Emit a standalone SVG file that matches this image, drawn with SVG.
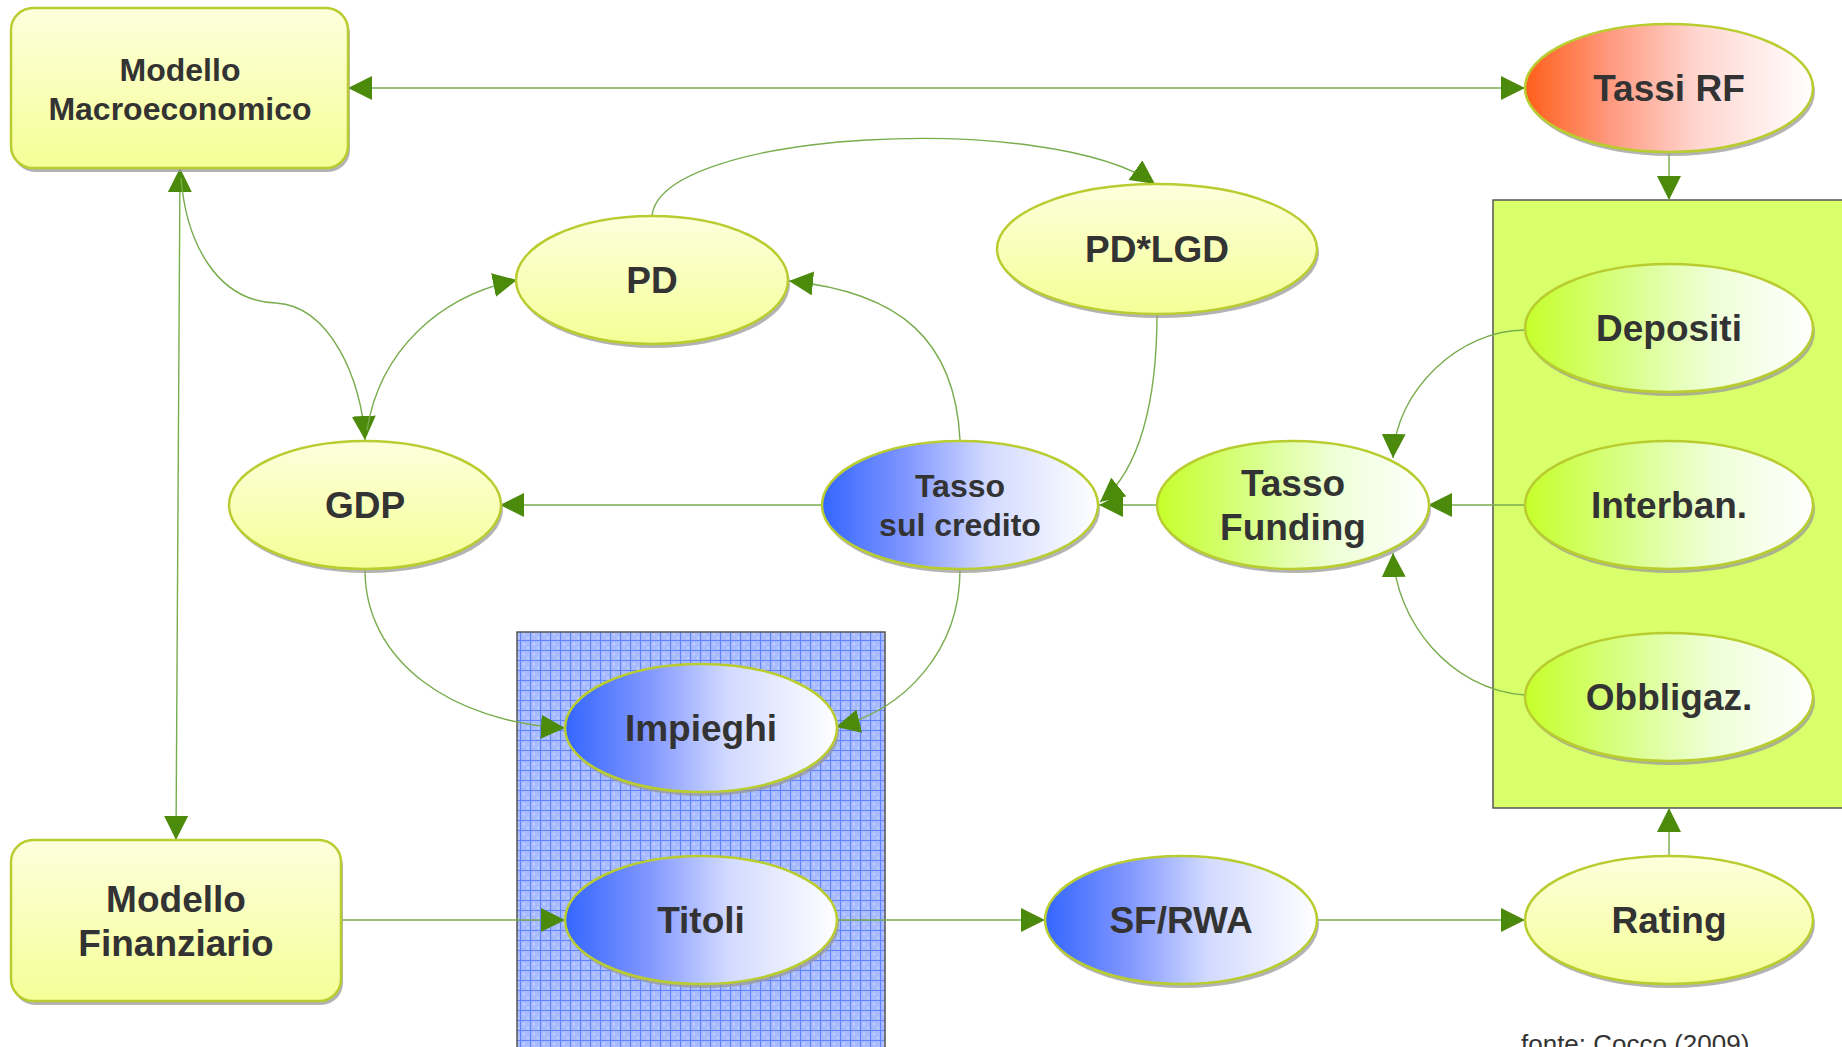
<svg xmlns="http://www.w3.org/2000/svg" width="1842" height="1047" viewBox="0 0 1842 1047">
<style>
.lbl{font-family:"Liberation Sans",Arial,sans-serif;font-weight:bold;fill:#333333;text-anchor:middle}
.f37{font-size:37px}
.f32{font-size:32px}
.node{stroke:#b9cc30;stroke-width:2.5}
.shadow{fill:#9a9a9a;opacity:0.75}
.conn{fill:none;stroke:#78ad4e;stroke-width:1.4}
</style>
<defs>
<linearGradient id="gYellow" x1="0" y1="0" x2="0" y2="1">
<stop offset="0" stop-color="#fdffdc"/>
<stop offset="1" stop-color="#f5ff96"/>
</linearGradient>
<linearGradient id="gBlue" x1="0" y1="0" x2="1" y2="0">
<stop offset="0" stop-color="#3366ff"/>
<stop offset="0.3" stop-color="#7f95ff"/>
<stop offset="0.6" stop-color="#d2daff"/>
<stop offset="1" stop-color="#ffffff"/>
</linearGradient>
<linearGradient id="gGreen" x1="0" y1="0" x2="1" y2="0">
<stop offset="0" stop-color="#c6ff2a"/>
<stop offset="0.35" stop-color="#d8ff88"/>
<stop offset="0.65" stop-color="#eeffd6"/>
<stop offset="1" stop-color="#ffffff"/>
</linearGradient>
<linearGradient id="gRed" x1="0" y1="0" x2="1" y2="0">
<stop offset="0" stop-color="#ff5f1a"/>
<stop offset="0.3" stop-color="#ff9a80"/>
<stop offset="0.6" stop-color="#ffd6d0"/>
<stop offset="1" stop-color="#ffffff"/>
</linearGradient>
<pattern id="grid" width="10" height="10" patternUnits="userSpaceOnUse">
<rect width="10" height="10" fill="#a9bbff"/>
<rect x="3" y="3" width="2" height="2" fill="#c4d0ff"/>
<rect x="7" y="7" width="2" height="2" fill="#c4d0ff"/>
<path d="M0 0.5H10M0.5 0V10" stroke="#5f82ff" stroke-width="1.2"/>
</pattern>
<marker id="arr" viewBox="0 0 24 24" refX="24" refY="12" markerWidth="24" markerHeight="24" markerUnits="userSpaceOnUse" orient="auto-start-reverse">
<path d="M0 0L24 12L0 24Z" fill="#4c8a0b"/>
</marker>
</defs>
<rect width="1842" height="1047" fill="#ffffff"/>

<g id="group-funding">
<rect x="1493" y="200" width="360" height="608" fill="#d9ff6a" stroke="#555555" stroke-width="1.5"/>
</g>
<g id="group-attivo">
<rect x="517" y="632" width="368" height="430" fill="url(#grid)" stroke="#555555" stroke-width="1.5"/>
</g>

<g id="connectors">
<path class="conn" d="M348 88H1525" marker-start="url(#arr)" marker-end="url(#arr)"/>
<path class="conn" d="M1669 153V200" marker-end="url(#arr)"/>
<path class="conn" d="M180 168L176 840" marker-start="url(#arr)" marker-end="url(#arr)"/>
<path class="conn" d="M181 178C186 240 215 301 276 303C330 306 362 380 365 440" marker-end="url(#arr)"/>
<path class="conn" d="M367 430C380 350 440 296 517 280" marker-end="url(#arr)"/>
<path class="conn" d="M652 216C660 130 1050 110 1155 184" marker-end="url(#arr)"/>
<path class="conn" d="M960 440C955 340 900 292 789 281" marker-end="url(#arr)"/>
<path class="conn" d="M1157 314C1157 400 1140 470 1100 502" marker-end="url(#arr)"/>
<path class="conn" d="M1157 505H1099" marker-end="url(#arr)"/>
<path class="conn" d="M821 505H500" marker-end="url(#arr)"/>
<path class="conn" d="M365 570C365 660 450 722 565 728" marker-end="url(#arr)"/>
<path class="conn" d="M960 570C960 650 905 710 836 727" marker-end="url(#arr)"/>
<path class="conn" d="M1525 330C1460 330 1395 390 1393 458" marker-end="url(#arr)"/>
<path class="conn" d="M1525 505H1428" marker-end="url(#arr)"/>
<path class="conn" d="M1525 695C1450 690 1395 620 1393 553" marker-end="url(#arr)"/>
<path class="conn" d="M341 920H565" marker-end="url(#arr)"/>
<path class="conn" d="M836 920H1045" marker-end="url(#arr)"/>
<path class="conn" d="M1317 920H1525" marker-end="url(#arr)"/>
<path class="conn" d="M1669 855V808" marker-end="url(#arr)"/>
</g>

<g id="modello-macroeconomico">
<rect class="shadow" x="13" y="12" width="337" height="160" rx="22"/>
<rect class="node" x="11" y="8" width="337" height="160" rx="22" fill="url(#gYellow)"/>
<text class="lbl f32" x="180" y="81">Modello</text>
<text class="lbl f32" x="180" y="120">Macroeconomico</text>
</g>

<g id="tassi-rf">
<ellipse class="shadow" cx="1671" cy="92" rx="144" ry="64"/>
<ellipse class="node" cx="1669" cy="88" rx="144" ry="64" fill="url(#gRed)"/>
<text class="lbl f37" x="1669" y="101">Tassi RF</text>
</g>

<g id="pd">
<ellipse class="shadow" cx="654" cy="284" rx="136" ry="64"/>
<ellipse class="node" cx="652" cy="280" rx="136" ry="64" fill="url(#gYellow)"/>
<text class="lbl f37" x="652" y="293">PD</text>
</g>

<g id="pd-lgd">
<ellipse class="shadow" cx="1159" cy="253" rx="160" ry="65"/>
<ellipse class="node" cx="1157" cy="249" rx="160" ry="65" fill="url(#gYellow)"/>
<text class="lbl f37" x="1157" y="262">PD*LGD</text>
</g>

<g id="gdp">
<ellipse class="shadow" cx="367" cy="509" rx="136" ry="64"/>
<ellipse class="node" cx="365" cy="505" rx="136" ry="64" fill="url(#gYellow)"/>
<text class="lbl f37" x="365" y="518">GDP</text>
</g>

<g id="tasso-credito">
<ellipse class="shadow" cx="962" cy="509" rx="138" ry="64"/>
<ellipse class="node" cx="960" cy="505" rx="138" ry="64" fill="url(#gBlue)"/>
<text class="lbl f32" x="960" y="497">Tasso</text>
<text class="lbl f32" x="960" y="536">sul credito</text>
</g>

<g id="tasso-funding">
<ellipse class="shadow" cx="1295" cy="509" rx="136" ry="64"/>
<ellipse class="node" cx="1293" cy="505" rx="136" ry="64" fill="url(#gGreen)"/>
<text class="lbl f37" x="1293" y="496">Tasso</text>
<text class="lbl f37" x="1293" y="540">Funding</text>
</g>

<g id="depositi">
<ellipse class="shadow" cx="1671" cy="332" rx="144" ry="64"/>
<ellipse class="node" cx="1669" cy="328" rx="144" ry="64" fill="url(#gGreen)"/>
<text class="lbl f37" x="1669" y="341">Depositi</text>
</g>

<g id="interban">
<ellipse class="shadow" cx="1671" cy="509" rx="144" ry="64"/>
<ellipse class="node" cx="1669" cy="505" rx="144" ry="64" fill="url(#gGreen)"/>
<text class="lbl f37" x="1669" y="518">Interban.</text>
</g>

<g id="obbligaz">
<ellipse class="shadow" cx="1671" cy="701" rx="144" ry="64"/>
<ellipse class="node" cx="1669" cy="697" rx="144" ry="64" fill="url(#gGreen)"/>
<text class="lbl f37" x="1669" y="710">Obbligaz.</text>
</g>

<g id="impieghi">
<ellipse class="shadow" cx="703" cy="732" rx="136" ry="64"/>
<ellipse class="node" cx="701" cy="728" rx="136" ry="64" fill="url(#gBlue)"/>
<text class="lbl f37" x="701" y="741">Impieghi</text>
</g>

<g id="titoli">
<ellipse class="shadow" cx="703" cy="924" rx="136" ry="64"/>
<ellipse class="node" cx="701" cy="920" rx="136" ry="64" fill="url(#gBlue)"/>
<text class="lbl f37" x="701" y="933">Titoli</text>
</g>

<g id="sf-rwa">
<ellipse class="shadow" cx="1183" cy="924" rx="136" ry="64"/>
<ellipse class="node" cx="1181" cy="920" rx="136" ry="64" fill="url(#gBlue)"/>
<text class="lbl f37" x="1181" y="933">SF/RWA</text>
</g>

<g id="rating">
<ellipse class="shadow" cx="1671" cy="924" rx="144" ry="64"/>
<ellipse class="node" cx="1669" cy="920" rx="144" ry="64" fill="url(#gYellow)"/>
<text class="lbl f37" x="1669" y="933">Rating</text>
</g>

<g id="modello-finanziario">
<rect class="shadow" x="13" y="844" width="330" height="161" rx="22"/>
<rect class="node" x="11" y="840" width="330" height="161" rx="22" fill="url(#gYellow)"/>
<text class="lbl f37" x="176" y="912">Modello</text>
<text class="lbl f37" x="176" y="956">Finanziario</text>
</g>

<text x="1521" y="1053" style="font-family:'Liberation Sans',Arial,sans-serif;font-size:26px;fill:#333333">fonte: Cocco (2009)</text>
</svg>
